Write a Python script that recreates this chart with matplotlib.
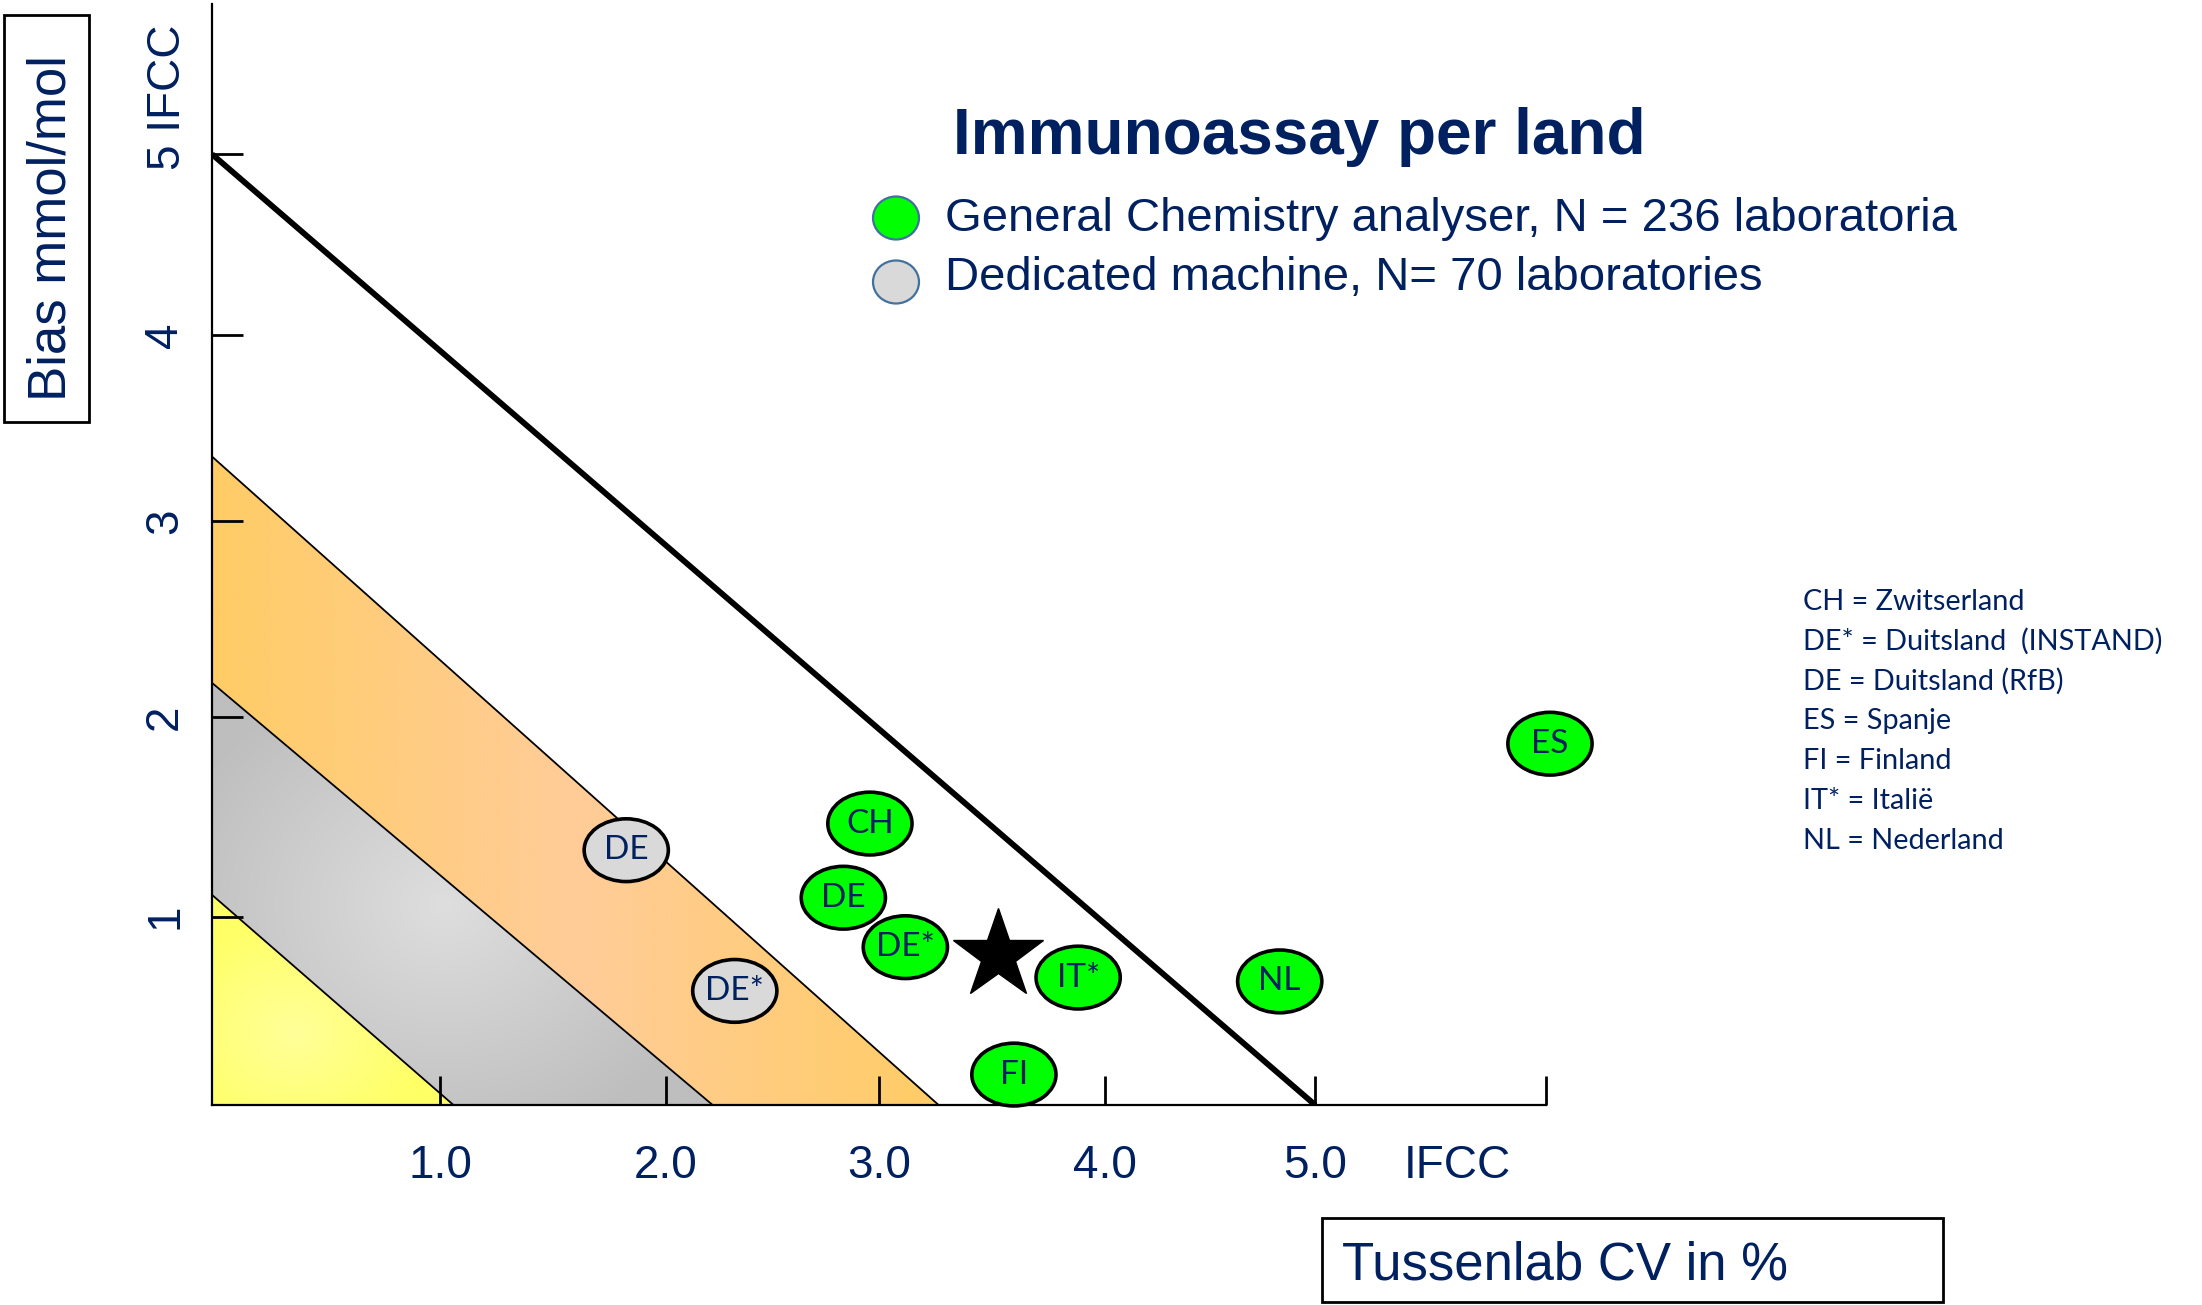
import numpy as np
import matplotlib
matplotlib.use("Agg")
import matplotlib.pyplot as plt
from matplotlib.patches import Polygon, Ellipse, Rectangle
from matplotlib.colors import to_rgb

plt.rcParams["font.family"] = ["Liberation Sans", "DejaVu Sans"]
NAVY = "#002060"

# zone boundaries: (x-intercept, y-intercept)
outer_limit = (4.98, 5.0)
orange_top = (3.28, 3.41)
gray_top = (2.26, 2.22)
yellow_top = (1.09, 1.105)

# country points
green_labels = ["CH", "DE", "DE*", "IT*", "NL", "FI", "ES"]
green_x = [2.97, 2.85, 3.13, 3.91, 4.82, 3.62, 6.04]
green_y = [1.48, 1.09, 0.83, 0.67, 0.65, 0.16, 1.90]
gray_labels = ["DE", "DE*"]
gray_x = [1.87, 2.36]
gray_y = [1.34, 0.60]
star_x = [3.55]
star_y = [0.79]

# axis ticks (as drawn)
xtick_pos = [1.03, 2.05, 3.01, 4.03, 4.98, 6.02]
xtick_labels = ["1.0", "2.0", "3.0", "4.0", "5.0", ""]
ytick_pos = [0.99, 2.04, 3.07, 4.05, 5.0]
ytick_labels = ["1", "2", "3", "4", ""]

country_legend = [
    "CH = Zwitserland",
    "DE* = Duitsland  (INSTAND)",
    "DE = Duitsland (RfB)",
    "ES = Spanje",
    "FI = Finland",
    "IT* = Italië",
    "NL = Nederland",
]

fig = plt.figure(figsize=(22.02, 13.05), dpi=100)
ax = fig.add_axes([0.09628, 0.15326, 0.6056, 0.8437])


def shade(ax, px, py, c_edge, c_mid, centre, radius, horizontal=False):
    poly = Polygon(np.column_stack([px, py]), closed=True, fc="none", ec="none")
    ax.add_patch(poly)
    x0, x1, y0, y1 = min(px), max(px), min(py), max(py)
    gx, gy = np.meshgrid(np.linspace(x0, x1, 400), np.linspace(y0, y1, 400))
    if horizontal:
        d = np.abs(gx - centre[0]) / radius[0]
    else:
        d = np.hypot((gx - centre[0]) / radius[0], (gy - centre[1]) / radius[1])
    t = np.clip(d, 0, 1)[..., None]
    img = (1 - t) * np.array(to_rgb(c_mid)) + t * np.array(to_rgb(c_edge))
    im = ax.imshow(img, extent=(x0, x1, y0, y1), origin="lower", aspect="auto",
                   zorder=1, interpolation="bilinear")
    im.set_clip_path(poly)


# coloured zones
shade(ax, [0, 0, orange_top[0], gray_top[0]], [gray_top[1], orange_top[1], 0, 0],
      "#FFCC66", "#FFCC99", (orange_top[0] / 2, 0), (orange_top[0] / 2, 1), horizontal=True)
shade(ax, [0, 0, gray_top[0], yellow_top[0]], [yellow_top[1], gray_top[1], 0, 0],
      "#BEBEBE", "#DEDEDE", (1.05, 1.05), (1.3, 1.3))
shade(ax, [0, 0, yellow_top[0]], [0, yellow_top[1], 0],
      "#FFFF66", "#FFFF99", (0.37, 0.38), (0.6, 0.6))

for xi, yi in [orange_top, gray_top, yellow_top]:
    ax.plot([0, xi], [yi, 0], color="black", lw=1.3, zorder=2)
ax.plot([0, outer_limit[0]], [outer_limit[1], 0], color="black", lw=4.2, zorder=2,
        solid_capstyle="butt")

# country ellipses
ew, eh = 0.38, 0.33
for lab, x, y in zip(green_labels, green_x, green_y):
    ax.add_patch(Ellipse((x, y), ew, eh, fc="#00FF00", ec="black", lw=2.6, zorder=4, clip_on=False))
    ax.text(x, y, lab, ha="center", va="center", fontsize=24, family="Lato", color=NAVY,
            zorder=5, clip_on=False)
for lab, x, y in zip(gray_labels, gray_x, gray_y):
    ax.add_patch(Ellipse((x, y), ew, eh, fc="#D9D9D9", ec="black", lw=2.6, zorder=4, clip_on=False))
    ax.text(x, y, lab, ha="center", va="center", fontsize=24, family="Lato", color=NAVY,
            zorder=5, clip_on=False)
ax.plot(star_x, star_y, marker="*", markersize=68, color="black", ls="none", zorder=5, clip_on=False)

# axes
ax.set_xlim(0, 6.02)
ax.set_ylim(0, 5.79)
for s in ["top", "right"]:
    ax.spines[s].set_visible(False)
for s in ["left", "bottom"]:
    ax.spines[s].set_linewidth(1.6)
    ax.spines[s].set_zorder(3)
ax.set_xticks(xtick_pos)
ax.set_xticklabels(xtick_labels, fontsize=33, color=NAVY)
ax.set_yticks(ytick_pos)
ax.set_yticklabels(ytick_labels, fontsize=33, color=NAVY, rotation=90, va="center")
ax.tick_params(axis="x", direction="in", length=21, width=2, pad=28)
ax.tick_params(axis="y", direction="in", length=22, width=2, pad=18)
ax.text(5.62, -0.32, "IFCC", ha="center", va="center", fontsize=33, color=NAVY, clip_on=False)
fig.text(180 / 2202, 1 - 170 / 1305, "5 IFCC", rotation=90, rotation_mode="anchor",
         ha="left", va="baseline", fontsize=33, color=NAVY)

# axis titles in boxes
fig.add_artist(Rectangle((4 / 2202, 1 - 422 / 1305), 85 / 2202, 407 / 1305,
                         transform=fig.transFigure, fill=False, ec="black", lw=2))
fig.text(66 / 2202, 1 - 228 / 1305, "Bias mmol/mol", rotation=90, rotation_mode="anchor",
         ha="center", va="baseline", fontsize=38, color=NAVY)
fig.add_artist(Rectangle((1322 / 2202, 3 / 1305), 621 / 2202, 84 / 1305,
                         transform=fig.transFigure, fill=False, ec="black", lw=2))
fig.text(1342 / 2202, 1 - 1280 / 1305, "Tussenlab CV in %", ha="left", va="baseline",
         fontsize=38, color=NAVY)

# title and legend
fig.text(953 / 2202, 1 - 154 / 1305, "Immunoassay per land", ha="left", va="baseline",
         fontsize=46, fontweight="bold", color=NAVY)
legend_rows = [("#00FF00", "General Chemistry analyser, N = 236 laboratoria", 218, 231),
               ("#D9D9D9", "Dedicated machine, N= 70 laboratories", 282, 290)]
for fc, txt, yc, yb in legend_rows:
    fig.add_artist(Ellipse((896 / 2202, 1 - yc / 1305), 46 / 2202, 43 / 1305,
                           transform=fig.transFigure, fc=fc, ec="#41719C", lw=1.6))
    fig.text(945 / 2202, 1 - yb / 1305, txt, ha="left", va="baseline", fontsize=34, color=NAVY)

for i, txt in enumerate(country_legend):
    fig.text(1803 / 2202, 1 - (610 + 39.8 * i) / 1305, txt, ha="left", va="baseline",
             fontsize=20.8, family="Lato", color=NAVY)

fig.savefig("out.png", dpi=100)
